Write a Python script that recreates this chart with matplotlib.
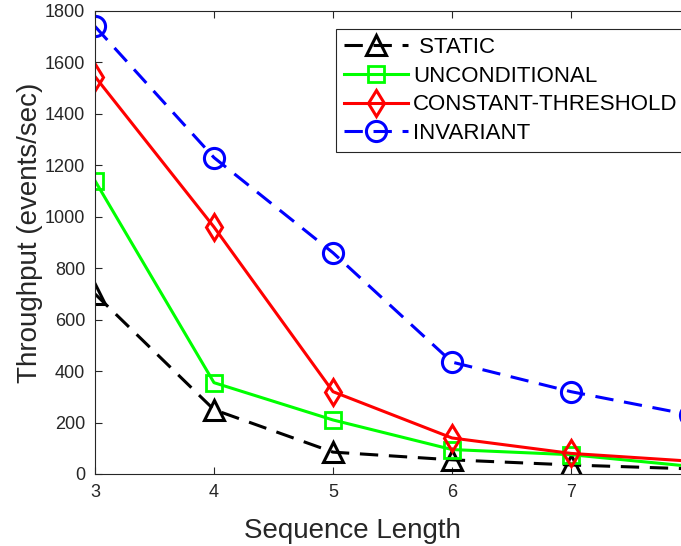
import numpy as np
import matplotlib.pyplot as plt

plt.rcParams['font.family'] = ['Liberation Sans', 'DejaVu Sans']

seq_len = [3, 4, 5, 6, 7, 8]
static = [700, 250, 85, 55, 35, 20]
unconditional = [1140, 355, 210, 95, 75, 30]
const_threshold = [1545, 960, 320, 140, 80, 50]
invariant = [1740, 1230, 860, 435, 320, 230]

fig = plt.figure(figsize=(6.81, 5.46), dpi=100)
# axes run a little past the right edge of the picture, like the original crop
ax = fig.add_axes([0.1395, 0.1319, 0.8737, 0.848])

lw = 2.2
ax.plot(seq_len, static, color='black', lw=lw, dashes=(6, 3.5), marker='^',
        ms=15, mfc='none', mew=2.2, label=' STATIC')
ax.plot(seq_len, unconditional, color=(0, 1, 0), lw=lw, marker='s',
        ms=11, mfc='none', mew=2.0, label='UNCONDITIONAL')
ax.plot(seq_len, const_threshold, color='red', lw=lw, marker='d',
        ms=13, mfc='none', mew=2.2, label='CONSTANT-THRESHOLD')
ax.plot(seq_len, invariant, color='blue', lw=lw, dashes=(6, 3.5), marker='o',
        ms=14.5, mfc='none', mew=2.2, label='INVARIANT')

ax.set_xlim(3, 8)
ax.set_ylim(0, 1800)
ax.set_xticks([3, 4, 5, 6, 7])
ax.set_yticks(np.arange(0, 1801, 200))

gray = '#262626'
ax.tick_params(direction='in', length=5, width=0.8, top=True, right=False,
               labelsize=13, colors=gray, pad=7)
for s in ax.spines.values():
    s.set_color(gray)
    s.set_linewidth(0.8)

ax.set_xlabel('Sequence Length', fontsize=20, color=gray)
ax.xaxis.set_label_coords(0.432, -0.094)
ax.set_ylabel('Throughput (events/sec)', fontsize=20, color=gray)
ax.yaxis.set_label_coords(-0.088, 0.52)

leg = ax.legend(loc='upper left', bbox_to_anchor=(0.405, 0.704, 0.7, 0.257),
                mode='expand', fontsize=16, frameon=True, fancybox=False,
                framealpha=1, edgecolor=gray, handlelength=2.9,
                handletextpad=0.22, labelspacing=0.35, borderpad=0.35,
                borderaxespad=0)
leg.get_frame().set_linewidth(0.8)

fig.savefig('out.png', dpi=100)
